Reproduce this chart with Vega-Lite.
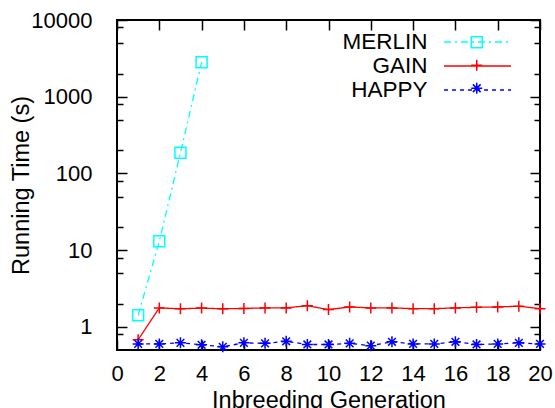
{
  "$schema": "https://vega.github.io/schema/vega-lite/v6.json",
  "width": 423,
  "height": 330,
  "autosize": {"type": "none"},
  "padding": {"left": 117, "top": 20, "right": 15, "bottom": 58},
  "background": "white",
  "config": {
    "view": {"stroke": "black", "strokeWidth": 2},
    "font": "Liberation Sans",
    "axis": {
      "grid": false,
      "domain": false,
      "tickColor": "black",
      "tickWidth": 1.5,
      "labelColor": "black",
      "labelFont": "Liberation Sans",
      "labelFontSize": 22,
      "titleFont": "Liberation Sans",
      "titleFontSize": 23.5,
      "titleFontWeight": "normal",
      "titleColor": "black",
      "labelFlush": false,
      "labelOverlap": false
    }
  },
  "data": {
    "values": [
      {"series": "MERLIN", "gen": 1, "time": 1.42},
      {"series": "MERLIN", "gen": 2, "time": 13.1},
      {"series": "MERLIN", "gen": 3, "time": 186},
      {"series": "MERLIN", "gen": 4, "time": 2820},
      {"series": "GAIN", "gen": 1, "time": 0.68},
      {"series": "GAIN", "gen": 2, "time": 1.77},
      {"series": "GAIN", "gen": 3, "time": 1.72},
      {"series": "GAIN", "gen": 4, "time": 1.76},
      {"series": "GAIN", "gen": 5, "time": 1.72},
      {"series": "GAIN", "gen": 6, "time": 1.74},
      {"series": "GAIN", "gen": 7, "time": 1.77},
      {"series": "GAIN", "gen": 8, "time": 1.77},
      {"series": "GAIN", "gen": 9, "time": 1.89},
      {"series": "GAIN", "gen": 10, "time": 1.68},
      {"series": "GAIN", "gen": 11, "time": 1.82},
      {"series": "GAIN", "gen": 12, "time": 1.77},
      {"series": "GAIN", "gen": 13, "time": 1.77},
      {"series": "GAIN", "gen": 14, "time": 1.73},
      {"series": "GAIN", "gen": 15, "time": 1.73},
      {"series": "GAIN", "gen": 16, "time": 1.77},
      {"series": "GAIN", "gen": 17, "time": 1.8},
      {"series": "GAIN", "gen": 18, "time": 1.82},
      {"series": "GAIN", "gen": 19, "time": 1.86},
      {"series": "GAIN", "gen": 20, "time": 1.73},
      {"series": "HAPPY", "gen": 1, "time": 0.6},
      {"series": "HAPPY", "gen": 2, "time": 0.6},
      {"series": "HAPPY", "gen": 3, "time": 0.62},
      {"series": "HAPPY", "gen": 4, "time": 0.585},
      {"series": "HAPPY", "gen": 5, "time": 0.55},
      {"series": "HAPPY", "gen": 6, "time": 0.62},
      {"series": "HAPPY", "gen": 7, "time": 0.61},
      {"series": "HAPPY", "gen": 8, "time": 0.65},
      {"series": "HAPPY", "gen": 9, "time": 0.59},
      {"series": "HAPPY", "gen": 10, "time": 0.59},
      {"series": "HAPPY", "gen": 11, "time": 0.61},
      {"series": "HAPPY", "gen": 12, "time": 0.57},
      {"series": "HAPPY", "gen": 13, "time": 0.64},
      {"series": "HAPPY", "gen": 14, "time": 0.6},
      {"series": "HAPPY", "gen": 15, "time": 0.6},
      {"series": "HAPPY", "gen": 16, "time": 0.64},
      {"series": "HAPPY", "gen": 17, "time": 0.59},
      {"series": "HAPPY", "gen": 18, "time": 0.6},
      {"series": "HAPPY", "gen": 19, "time": 0.62},
      {"series": "HAPPY", "gen": 20, "time": 0.6}
    ]
  },
  "layer": [
    {
      "mark": {"type": "line", "strokeWidth": 1.3},
      "encoding": {
        "x": {
          "field": "gen", "type": "quantitative",
          "scale": {"domain": [0, 20], "nice": false, "zero": false},
          "axis": {
            "orient": "bottom",
            "values": [0, 2, 4, 6, 8, 10, 12, 14, 16, 18, 20],
            "tickSize": -10,
            "labelPadding": 23,
            "title": "Inbreeding Generation",
            "titlePadding": 4
          }
        },
        "y": {
          "field": "time", "type": "quantitative",
          "scale": {"type": "log", "domain": [0.5, 10000], "nice": false},
          "axis": {
            "orient": "left",
            "values": [1, 10, 100, 1000, 10000],
            "format": "d",
            "tickSize": -10,
            "labelPadding": 35,
            "title": "Running Time (s)",
            "titlePadding": -3
          }
        },
        "color": {
          "field": "series", "type": "nominal",
          "scale": {"domain": ["MERLIN", "GAIN", "HAPPY"], "range": ["#00ffff", "#ff0000", "#0000ff"]},
          "legend": {
            "orient": "none",
            "legendX": 348.5,
            "legendY": 10,
            "title": null,
            "padding": 0,
            "rowPadding": 0,
            "symbolType": "M-3,0L3,0",
            "symbolSize": 499,
            "symbolStrokeWidth": 1.3,
            "labelAlign": "right",
            "labelOffset": -62,
            "labelFont": "Liberation Sans",
            "labelFontSize": 22.5,
            "labelColor": "black"
          }
        },
        "strokeDash": {
          "field": "series", "type": "nominal",
          "scale": {"domain": ["MERLIN", "GAIN", "HAPPY"], "range": [[7, 4, 2, 4], [1, 0], [4, 4]]},
          "legend": {}
        }
      }
    },
    {
      "mark": {"type": "point", "filled": false, "strokeWidth": 1.5, "opacity": 1, "size": 121},
      "encoding": {
        "x": {"field": "gen", "type": "quantitative", "axis": null},
        "y": {"field": "time", "type": "quantitative", "axis": null},
        "shape": {
          "field": "series", "type": "nominal",
          "sort": {"field": "time", "op": "max", "order": "descending"},
          "scale": {"range": ["square", "M-1,0L1,0M0,-1L0,1", "M-1,0L1,0M0,-1L0,1M-0.7,-0.7L0.7,0.7M-0.7,0.7L0.7,-0.7"]},
          "legend": {
            "orient": "none",
            "legendX": 348.5,
            "legendY": 11,
            "title": null,
            "padding": 0,
            "rowPadding": 0,
            "symbolSize": 121,
            "symbolStrokeWidth": 1.5,
            "symbolFillColor": "transparent",
            "labelExpr": "''",
            "labelFontSize": 22.5
          }
        },
        "stroke": {
          "field": "series", "type": "nominal",
          "sort": {"field": "time", "op": "max", "order": "descending"},
          "scale": {"range": ["#00ffff", "#ff0000", "#0000ff"]},
          "legend": {}
        }
      }
    },
    {
      "mark": {"type": "point", "opacity": 0},
      "encoding": {
        "x": {
          "field": "gen", "type": "quantitative",
          "axis": {"orient": "top", "values": [0, 2, 4, 6, 8, 10, 12, 14, 16, 18, 20], "tickSize": -10, "labels": false, "title": null}
        },
        "y": {
          "field": "time", "type": "quantitative",
          "axis": {"orient": "left", "values": [0.8, 2, 5, 8, 20, 50, 80, 200, 500, 800, 2000, 5000, 8000], "tickSize": -6, "labels": false, "title": null}
        }
      }
    },
    {
      "mark": {"type": "point", "opacity": 0},
      "encoding": {
        "x": {"field": "gen", "type": "quantitative", "axis": null},
        "y": {
          "field": "time", "type": "quantitative",
          "axis": {"orient": "right", "values": [1, 10, 100, 1000, 10000], "tickSize": -10, "labels": false, "title": null}
        }
      }
    },
    {
      "mark": {"type": "point", "opacity": 0},
      "encoding": {
        "x": {"field": "gen", "type": "quantitative", "axis": null},
        "y": {
          "field": "time", "type": "quantitative",
          "axis": {"orient": "right", "values": [0.8, 2, 5, 8, 20, 50, 80, 200, 500, 800, 2000, 5000, 8000], "tickSize": -6, "labels": false, "title": null}
        }
      }
    }
  ],
  "resolve": {"axis": {"x": "independent", "y": "independent"}}
}
